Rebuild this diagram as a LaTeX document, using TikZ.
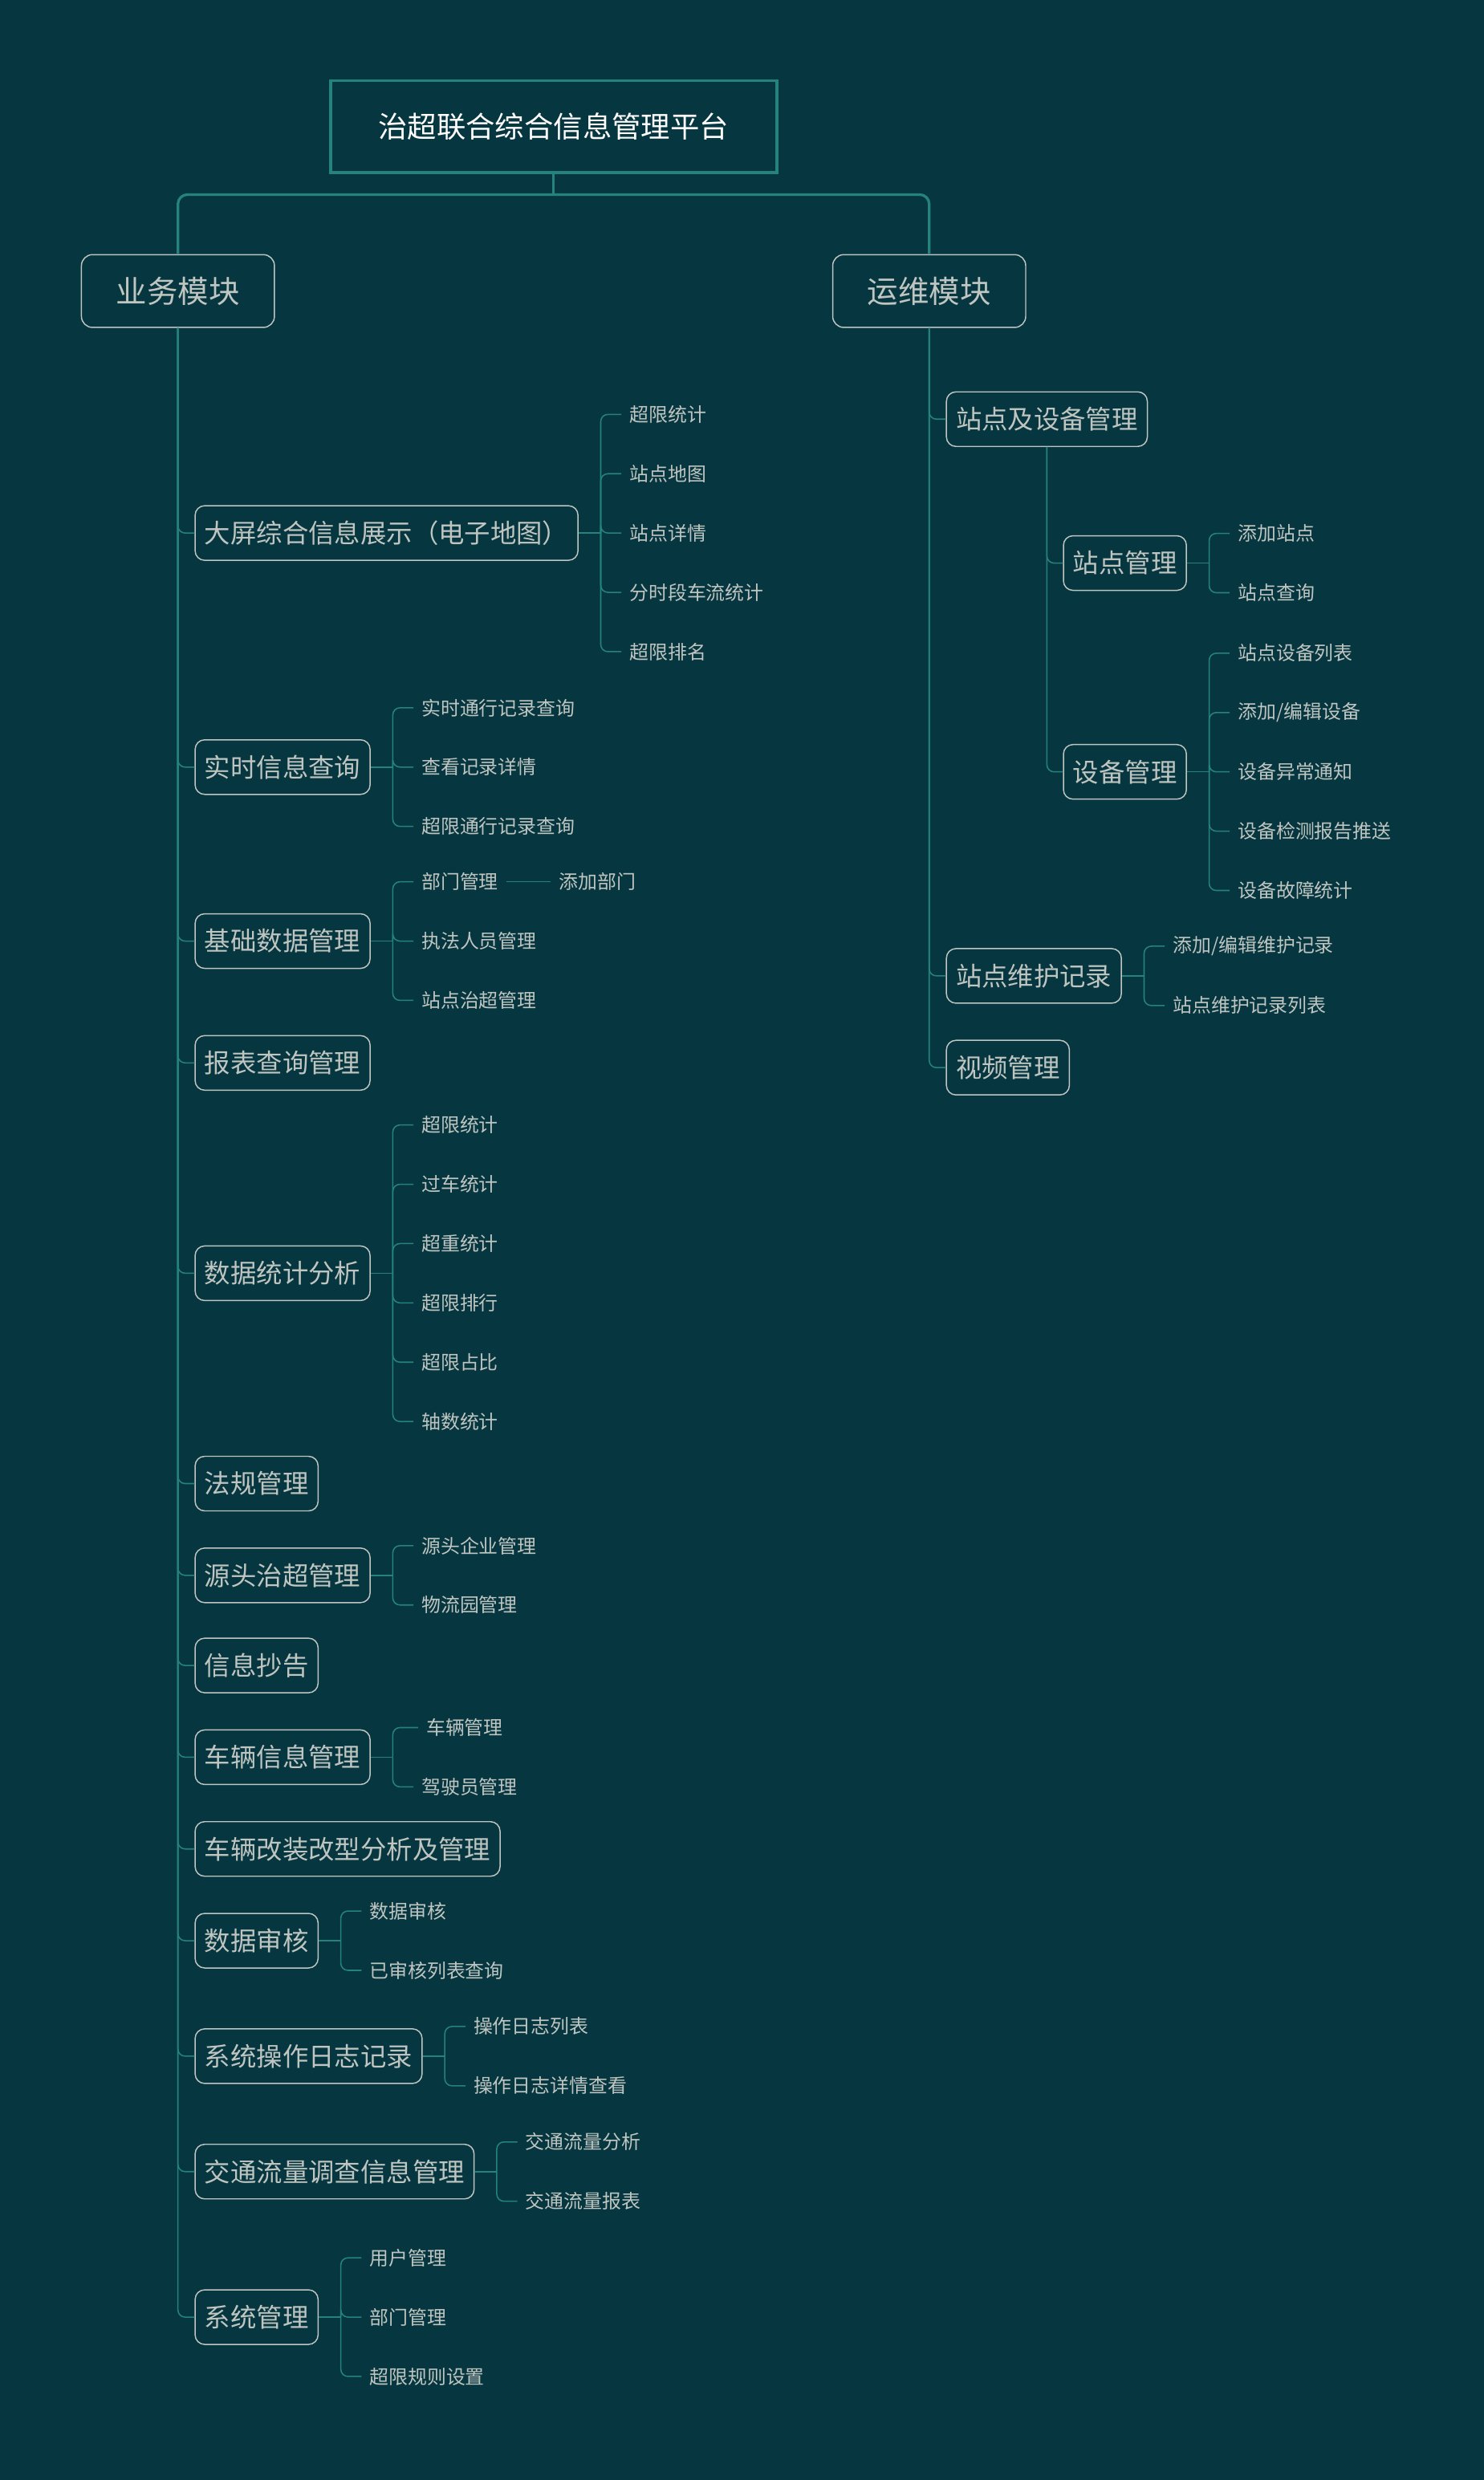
\documentclass[tikz,border=0pt]{standalone}
\usepackage{fontspec}
\setmainfont{Noto Sans CJK SC}
\definecolor{bgc}{HTML}{06363F}
\definecolor{linec}{HTML}{26827C}
\definecolor{txtc}{HTML}{BFC5C1}

\begin{document}
\begin{tikzpicture}[x=0.04cm, y=-0.04cm,
            rootbox/.style={draw=linec, line width=2.3pt, minimum width=11.28cm, minimum height=2.32cm, text=white, font=\fontsize{21}{23}\selectfont},
            modbox/.style={draw=txtc, line width=0.85pt, rounded corners=0.28cm, minimum width=4.88cm, minimum height=1.84cm, text=txtc, font=\fontsize{22.2}{24}\selectfont},
            itembox/.style={draw=txtc, line width=0.85pt, rounded corners=0.24cm, anchor=west, inner xsep=0.24cm, minimum height=1.38cm, text=txtc, font=\fontsize{18.7}{20}\selectfont},
            leaf/.style={anchor=west, inner xsep=0.2cm, inner ysep=1pt, text=txtc, font=\fontsize{13.8}{16}\selectfont},
            link/.style={draw=linec, line width=0.9pt, rounded corners=0.18cm},
            trunk/.style={draw=linec, line width=1.9pt, rounded corners=0.24cm}]
            \useasboundingbox (0,0) rectangle (938,1568);
            \fill[bgc] (0,0) rectangle (938,1568);

            \node[rootbox] (root) at (350,80) {治超联合综合信息管理平台};
            \node[modbox] (yw) at (112.5,184) {业务模块};
            \node[modbox] (yy) at (587.5,184) {运维模块};

            % business side
            \node[itembox] (b1) at (123,337) {大屏综合信息展示（电子地图）};
            \node[itembox] (b2) at (123,485) {实时信息查询};
            \node[itembox] (b3) at (123,595) {基础数据管理};
            \node[itembox] (b4) at (123,672) {报表查询管理};
            \node[itembox] (b5) at (123,805) {数据统计分析};
            \node[itembox] (b6) at (123,938) {法规管理};
            \node[itembox] (b7) at (123,996) {源头治超管理};
            \node[itembox] (b8) at (123,1053) {信息抄告};
            \node[itembox] (b9) at (123,1111) {车辆信息管理};
            \node[itembox] (b10) at (123,1169) {车辆改装改型分析及管理};
            \node[itembox] (b11) at (123,1227) {数据审核};
            \node[itembox] (b12) at (123,1300) {系统操作日志记录};
            \node[itembox] (b13) at (123,1373) {交通流量调查信息管理};
            \node[itembox] (b14) at (123,1465) {系统管理};

            \node[leaf] (b1-1) at ([shift={(27,-75)}]b1.east) {超限统计};
            \node[leaf] (b1-2) at ([shift={(27,-37.5)}]b1.east) {站点地图};
            \node[leaf] (b1-3) at ([shift={(27,0)}]b1.east) {站点详情};
            \node[leaf] (b1-4) at ([shift={(27,37.5)}]b1.east) {分时段车流统计};
            \node[leaf] (b1-5) at ([shift={(27,75)}]b1.east) {超限排名};

            \node[leaf] (b2-1) at ([shift={(27,-37.5)}]b2.east) {实时通行记录查询};
            \node[leaf] (b2-2) at ([shift={(27,0)}]b2.east) {查看记录详情};
            \node[leaf] (b2-3) at ([shift={(27,37.5)}]b2.east) {超限通行记录查询};

            \node[leaf] (b3-1) at ([shift={(27,-37.5)}]b3.east) {部门管理};
            \node[leaf] (b3-2) at ([shift={(27,0)}]b3.east) {执法人员管理};
            \node[leaf] (b3-3) at ([shift={(27,37.5)}]b3.east) {站点治超管理};
            \node[leaf] (b3-1a) at ([shift={(28,0)}]b3-1.east) {添加部门};

            \node[leaf] (b5-1) at ([shift={(27,-93.75)}]b5.east) {超限统计};
            \node[leaf] (b5-2) at ([shift={(27,-56.25)}]b5.east) {过车统计};
            \node[leaf] (b5-3) at ([shift={(27,-18.75)}]b5.east) {超重统计};
            \node[leaf] (b5-4) at ([shift={(27,18.75)}]b5.east) {超限排行};
            \node[leaf] (b5-5) at ([shift={(27,56.25)}]b5.east) {超限占比};
            \node[leaf] (b5-6) at ([shift={(27,93.75)}]b5.east) {轴数统计};

            \node[leaf] (b7-1) at ([shift={(27,-18.75)}]b7.east) {源头企业管理};
            \node[leaf] (b7-2) at ([shift={(27,18.75)}]b7.east) {物流园管理};

            \node[leaf] (b9-1) at ([shift={(30,-18.75)}]b9.east) {车辆管理};
            \node[leaf] (b9-2) at ([shift={(27,18.75)}]b9.east) {驾驶员管理};

            \node[leaf] (b11-1) at ([shift={(27,-18.75)}]b11.east) {数据审核};
            \node[leaf] (b11-2) at ([shift={(27,18.75)}]b11.east) {已审核列表查询};

            \node[leaf] (b12-1) at ([shift={(27,-18.75)}]b12.east) {操作日志列表};
            \node[leaf] (b12-2) at ([shift={(27,18.75)}]b12.east) {操作日志详情查看};

            \node[leaf] (b13-1) at ([shift={(27,-18.75)}]b13.east) {交通流量分析};
            \node[leaf] (b13-2) at ([shift={(27,18.75)}]b13.east) {交通流量报表};

            \node[leaf] (b14-1) at ([shift={(27,-37.5)}]b14.east) {用户管理};
            \node[leaf] (b14-2) at ([shift={(27,0)}]b14.east) {部门管理};
            \node[leaf] (b14-3) at ([shift={(27,37.5)}]b14.east) {超限规则设置};

            % operations side
            \node[itembox] (r1) at (598,265) {站点及设备管理};
            \node[itembox] (r11) at (672,356) {站点管理};
            \node[itembox] (r12) at (672,488) {设备管理};
            \node[itembox] (r2) at (598,617) {站点维护记录};
            \node[itembox] (r3) at (598,675) {视频管理};

            \node[leaf] (r11-1) at ([shift={(27,-18.75)}]r11.east) {添加站点};
            \node[leaf] (r11-2) at ([shift={(27,18.75)}]r11.east) {站点查询};

            \node[leaf] (r12-1) at ([shift={(27,-75)}]r12.east) {站点设备列表};
            \node[leaf] (r12-2) at ([shift={(27,-37.5)}]r12.east) {添加/编辑设备};
            \node[leaf] (r12-3) at ([shift={(27,0)}]r12.east) {设备异常通知};
            \node[leaf] (r12-4) at ([shift={(27,37.5)}]r12.east) {设备检测报告推送};
            \node[leaf] (r12-5) at ([shift={(27,75)}]r12.east) {设备故障统计};

            \node[leaf] (r2-1) at ([shift={(27,-18.75)}]r2.east) {添加/编辑维护记录};
            \node[leaf] (r2-2) at ([shift={(27,18.75)}]r2.east) {站点维护记录列表};

            \draw[trunk] (root.south) -- ++(0,13) coordinate (rj);
            \draw[trunk] (yw.north) |- (rj) -| (yy.north);

            \foreach \i in {1,...,14}
                \draw[link] (yw.south) |- (b\i.west);
            \foreach \i in {r1,r2,r3}
                \draw[link] (yy.south) |- (\i.west);
            \draw[link] (r1.south) |- (r11.west);
            \draw[link] (r1.south) |- (r12.west);

            \foreach \p/\n in {b1/5, b2/3, b3/3, b5/6, b7/2, b9/2, b11/2, b12/2, b13/2, b14/3, r11/2, r12/5, r2/2} {
                \draw[link] (\p.east) -- ++(14,0) coordinate (\p-j);
                \foreach \k in {1,...,\n}
                    \draw[link] (\p-j) |- (\p-\k.west);
            }
            \draw[link] (b3-1.east) -- (b3-1a.west);
        \end{tikzpicture}
\end{document}
